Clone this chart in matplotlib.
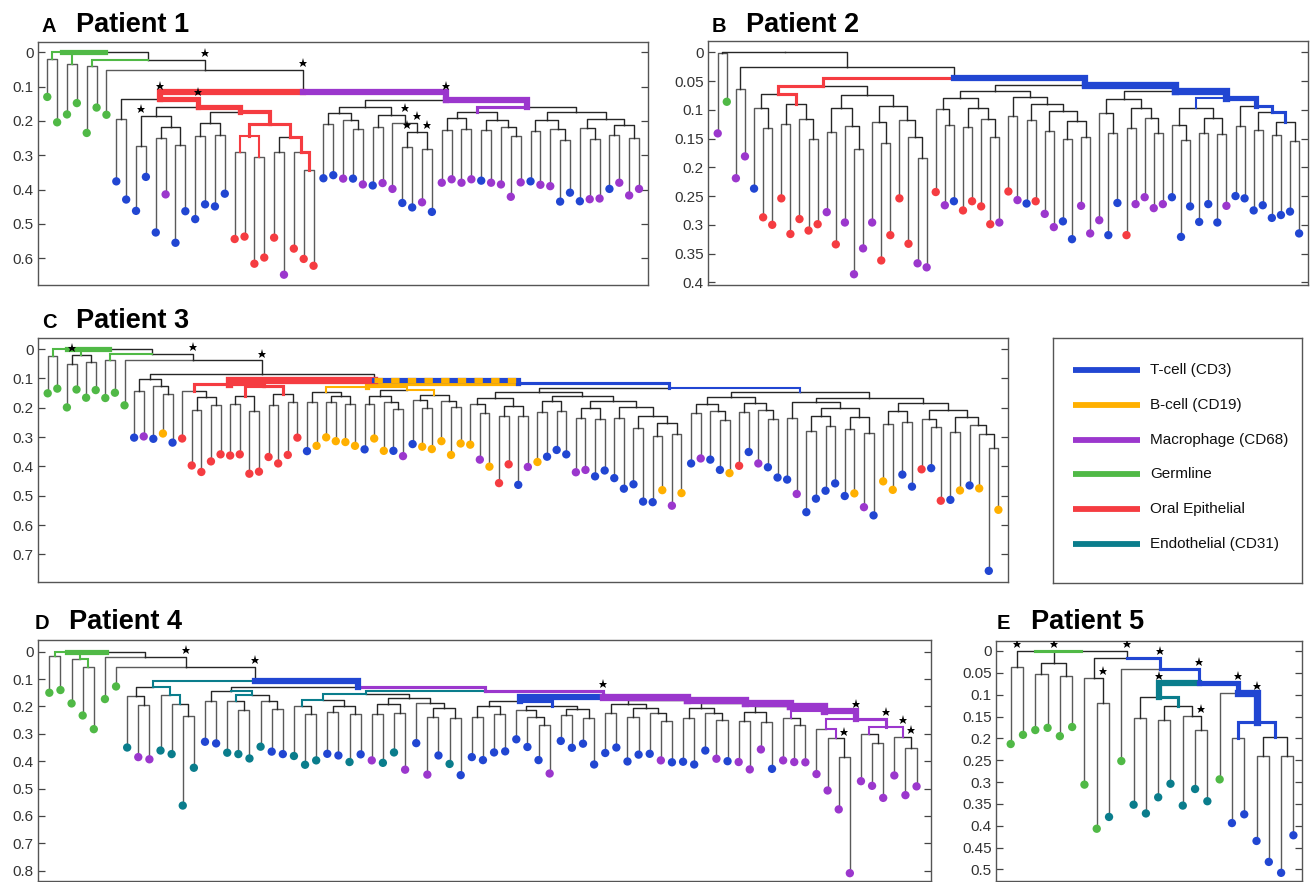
import matplotlib
matplotlib.use('Agg')
import matplotlib.pyplot as plt
from matplotlib.transforms import offset_copy
from matplotlib.ticker import FuncFormatter

plt.rcParams['font.family'] = ['Liberation Sans', 'DejaVu Sans']

# colours per cell type / lineage letter
COLS = {'b': '#2146d2', 'o': '#ffb000', 'p': '#9b37cd',
        'g': '#50b946', 'r': '#f53c41', 't': '#0a7d8c'}
legend_keys = ['b', 'o', 'p', 'g', 'r', 't']
legend_labels = ['T-cell (CD3)', 'B-cell (CD19)', 'Macrophage (CD68)',
                 'Germline', 'Oral Epithelial', 'Endothelial (CD31)']

# tree nodes: [height, left, right, tag]; leaves are indices into the leaf lists
# tag = lineage letter + branch weight, '*' marks a starred branch

# ---------------- Patient 1 ----------------
p1_cells = 'ggggggg' + 'bbbbb' + 'p' + 'bbbbbb' + 'rrrrr' + 'p' + 'rrr' + \
    'bbpbpbppbbpb' + 'pppp' + 'bppppbppbbbppbppp'
p1_hts = [.13, .204, .181, .148, .235, .161, .182,
          .376, .429, .462, .363, .525, .414, .555, .463, .486, .443, .449, .412,
          .544, .537, .616, .598, .540, .648, .572, .602, .622,
          .367, .358, .368, .368, .385, .388, .381, .398, .439, .452, .437, .465,
          .380, .370, .380, .370, .374, .380, .385, .421, .379, .376, .386, .390,
          .435, .409, .434, .428, .426, .398, .380, .417, .398]
p1_red = [0.137, [0.195, 7, 8],
          [0.159, [0.186, [0.273, 9, 10, '*'], [0.217, [0.25, 11, 12], [0.269, 13, 14]]],
           [0.175, [0.205, [0.244, 15, 16], [0.24, 17, 18]],
            [0.21, [0.244, [0.29, 19, 20, 'r2'], [0.305, 21, 22, 'r2'], 'r3'],
             [0.246, [0.29, 23, 24], [0.29, 25, [0.342, 26, 27, 'r3'], 'r3'], 'r3'], 'r4'],
            'r5'], 'r5*'], 'r6*']
p1_k = [0.16, [0.176, [0.21, 28, 29], [0.197, 30, [0.224, 31, 32]]],
        [0.183, [0.217, 33, 34],
         [0.207, 35, [0.233, [0.277, 36, 37, '*'], [0.281, 38, 39, '*'], '*'], '*']]]
p1_j = [0.175, [0.192, [0.226, 40, 41], [0.224, 42, 43]],
        [0.196, [0.227, 44, 45], [0.217, 46, [0.244, 47, 48]]], 'p3']
p1_i = [0.173, [0.198, [0.229, 49, 50], [0.223, 51, [0.256, 52, 53]]],
        [0.193, [0.22, 54, [0.254, 55, 56]], [0.211, [0.242, 57, 58], [0.25, 59, 60]]]]
p1_mac = [0.14, p1_k, [0.158, p1_j, p1_i, 'p6'], 'p6*']
p1_q = [0.117, p1_red, p1_mac, '*']
p1_tree = [0.0, [0.0, [0.02, 0, 1, 'g2'], [0.033, 2, 3, 'g2'], 'g5'],
           [0.022, [0.04, 4, 5, 'g2'], [0.052, 6, p1_q, '*']]]

# ---------------- Patient 2 ----------------
p2_cells = 'pgppb' + 'rrrrrrr' + 'prpppp' + 'rrrr' + 'pp' + 'rpb' + 'rrrr' + \
    'prpbr' + 'ppbbppp' + 'bbr' + 'pppp' + 'bbbbbb' + 'p' + 'bbbbbbbb'
p2_hts = [.141, .086, .219, .181, .237,
          .287, .300, .254, .316, .290, .310, .299,
          .278, .334, .296, .386, .341, .296,
          .362, .318, .254, .333, .367, .374,
          .243, .266, .259, .275, .259, .268, .299, .296,
          .242, .257, .263, .259, .281, .304, .294, .325, .267, .315, .292,
          .318, .262, .318, .264, .252, .271, .264,
          .252, .321, .268, .295, .264, .296, .267,
          .250, .254, .275, .266, .288, .283, .277, .315]
p2_rr = [0.0585,
         [0.073, [0.097, 4, [0.132, 5, 6]],
          [0.09, [0.125, 7, 8], [0.116, 9, [0.15, 10, 11]], 'r3'], 'r3'],
         [0.075, [0.096, [0.138, 12, 13], [0.128, 14, [0.168, 15, 16]]],
          [0.093, [0.121, 17, [0.158, 18, 19]], [0.117, 20, [0.148, 21, [0.184, 22, 23]]]]],
         'r3']
p2_d1 = [0.067,
         [0.08, [0.099, 24, [0.126, 25, 26]], [0.097, [0.13, 27, 28], [0.116, 29, [0.148, 30, 31]]]],
         [0.077, [0.111, 32, 33],
          [0.09, [0.118, 34, 35], [0.102, [0.136, 36, 37], [0.119, [0.15, 38, 39], [0.148, 40, 41]]]]]]
p2_c2l = [0.081, [0.105, 42, [0.14, 43, 44]], [0.097, [0.131, 45, 46], [0.115, 47, [0.14, 48, 49]]]]
p2_c3l = [0.096, [0.126, 50, [0.152, 51, 52]], [0.115, [0.14, 53, 54], [0.142, 55, 56]], 'b2']
p2_c5 = [0.104, [0.135, 59, 60], [0.121, [0.144, 61, 62], [0.154, 63, 64], 'b3'], 'b3']
p2_c3 = [0.08, p2_c3l, [0.093, [0.129, 57, 58], p2_c5, 'b5'], 'b7']
p2_c1 = [0.056, p2_d1, [0.067, p2_c2l, p2_c3, 'b7'], 'b6']
p2_tree = [0.0, [0.002, 0, 1], [0.025, [0.063, 2, 3], [0.044, p2_rr, p2_c1]]]

# ---------------- Patient 3 ----------------
p3_cells = 'ggggggggg' + 'bpbob' + 'rrrrrrrrrrrrr' + 'booooo' + 'boobpboooooo' + \
    'porrbpobbb' + 'ppbbbbbbbopo' + 'bpbbo' + 'rbpbbb' + 'pbbbbb' + 'opb' + \
    'oobb' + 'rbrb' + 'obobo'
p3_hts = [.151, .135, .199, .138, .166, .140, .167, .149, .192,
          .302, .298, .306, .288, .319,
          .305, .397, .419, .383, .359, .363, .359, .425, .418, .368, .390, .361, .302,
          .348, .330, .301, .314, .317, .330,
          .342, .305, .347, .347, .365, .324, .333, .341, .314, .361, .322, .326,
          .377, .401, .457, .393, .463, .402, .385, .367, .344, .359,
          .420, .412, .434, .414, .440, .476, .461, .520, .522, .481, .534, .491,
          .390, .373, .377, .412, .423, .398, .351, .390, .403, .438, .445, .494,
          .556, .510, .483, .458, .501, .492, .539, .567, .451, .480, .428, .469,
          .410, .406, .517, .514, .482, .465, .475, .756, .548]
p3_left = [0.103, [0.142, 9, 10], [0.126, 11, [0.155, 12, 13]]]
p3_red = [0.118, [0.142, 14, [0.165, [0.208, 15, 16], [0.191, 17, 18]], 'r3'],
          [0.125, [0.16, [0.189, 19, 20], [0.211, 21, 22], 'r3'],
           [0.155, [0.192, 23, 24], [0.182, 25, 26], 'r3'], 'r4'], 'r7']
p3_orange = [0.131, [0.145, [0.182, 27, 28], [0.159, [0.18, 29, 30], [0.188, 31, 32]], 'o2'],
             [0.14, [0.159, [0.188, 33, 34], [0.18, 35, [0.206, 36, 37]]],
              [0.157, [0.174, 38, [0.2, 39, 40]], [0.176, 41, [0.199, 42, 43]], 'o2'], 'o2'], 'o5']
p3_g1 = [0.145, [0.166, [0.188, 44, [0.219, 45, 46]], [0.193, [0.227, 47, 48], [0.23, 49, 50]]],
         [0.159, [0.177, [0.215, 51, 52], [0.21, 53, 54]],
          [0.177, [0.2, [0.236, 55, 56], [0.239, 57, 58]],
           [0.197, [0.235, 59, 60], [0.228, [0.27, 61, 62], [0.253, [0.297, 63, 64], [0.288, 65, 66]]]]]]]
p3_g2 = [0.148, [0.163, [0.1875, [0.219, 67, 68], [0.2125, 69, [0.243, 70, 71]]],
                 [0.185, [0.214, 72, 73], [0.208, 74, [0.24, 75, 76]]]],
         [0.166, [0.182, [0.236, 77, 78],
                  [0.202, [0.228, [0.28, 79, 80], [0.2625, 81, 82]], [0.233, [0.274, 83, 84], [0.2875, 85, 86]]]],
          [0.185, [0.211, [0.256, 87, 88], [0.249, 89, 90]],
           [0.208, [0.2375, 91, [0.266, 92, 93]],
            [0.233, [0.283, 94, 95], [0.258, 96, [0.291, 97, [0.336, 98, 99]]]]]]], 'b2']
p3_h = [0.106, p3_red, [0.117, p3_orange, [0.134, p3_g1, p3_g2, 'b3'], 'x5']]
p3_q = [0.085, p3_left, p3_h, '*']
p3_tree = [0.0, [0.0, [0.025, 0, 1, 'g2'], [0.02, [0.051, 2, 3, '*'], [0.043, 4, 5], 'g2'], 'g5'],
           [0.017, [0.039, 6, 7, 'g2'], [0.039, 8, p3_q, '*']]]

# ---------------- Patient 4 ----------------
p4_cells = 'ggggggg' + 'tpptttt' + 'bb' + 'tttt' + 'bb' + 'ttt' + 'bb' + 'tbpttpbpbt' + \
    'bbbbbbbbp' + 'bbbbbbbbb' + 'pbbbbpbppp' + 'bp' + 'pppppppppppp'
p4_hts = [.150, .140, .189, .233, .283, .173, .127,
          .350, .385, .393, .361, .374, .562, .424, .329, .335, .369, .374, .390, .347,
          .365, .374, .381, .413, .397, .373, .379,
          .403, .375, .397, .406, .368, .431, .334, .449, .379, .410, .451, .385, .396,
          .368, .364, .320, .348, .396, .445, .326, .351, .336, .412, .370, .350, .401, .376,
          .373, .397, .404, .402, .412, .361, .391, .400, .403, .430, .357, .428, .397,
          .403, .404, .447, .507, .576, .809, .473, .490, .534, .452, .524, .492]
p4_ql = [0.13, [0.162, 7, [0.196, 8, 9]], [0.158, 10, [0.19, 11, [0.235, 12, 13], 't2'], 't2'], 't2']
p4_n695 = [0.142, [0.18, 14, 15],
           [0.158, [0.18, 16, [0.213, 17, 18], 't2'], [0.18, 19, [0.21, 20, 21]], 't2']]
p4_t1 = [0.175, [0.199, 22, [0.229, 23, 24], 't2'], [0.199, [0.219, 25, 26], [0.229, 27, 28]], 't2']
p4_t2 = [0.17, [0.192, [0.229, 29, 30], [0.225, 31, 32]],
         [0.186, 33, [0.207, [0.24, 34, 35], [0.241, 36, 37]]]]
p4_n600 = [0.18, [0.2, [0.24, 38, 39], [0.228, 40, 41]],
           [0.199, [0.214, 42, [0.2375, 43, [0.268, 44, 45]]], [0.21, [0.231, 46, 47], [0.244, 48, 49]], 'b3'],
           'b6']
p4_mc6 = [0.274, [0.301, 73, [0.335, 74, 75], 'p2'], [0.313, 76, [0.35, 77, 78, '*'], 'p2*'], 'p3*']
p4_mc5 = [0.247, [0.283, 69, [0.317, 70, [0.386, 71, 72, '*'], 'p2'], 'p2'], p4_mc6, 'p6*']
p4_mc4 = [0.216, [0.244, 66, [0.266, 67, 68], 'p2'], p4_mc5, 'p7']
p4_mc3 = [0.2, [0.222, [0.253, 62, 63], [0.256, 64, 65]], p4_mc4, 'p7']
p4_mc2 = [0.186, [0.207, [0.244, 57, 58], [0.225, 59, [0.25, 60, 61]]], p4_mc3, 'p7']
p4_mc1 = [0.177, [0.191, [0.223, 50, 51], [0.207, [0.24, 52, 53], [0.225, 54, [0.252, 55, 56]]]],
          p4_mc2, 'p7']
p4_m1 = [0.143, [0.155, p4_t1, p4_t2, 't2'], [0.164, p4_n600, p4_mc1, 'p3*'], 'p3']
p4_q = [0.107, p4_ql, [0.128, p4_n695, p4_m1, 'b6'], '*']
p4_tree = [0.0, [0.0, [0.015, 0, 1, 'g2'], [0.028, 2, [0.055, 3, 4, 'g2'], 'g2'], 'g5'],
           [0.021, 5, [0.055, 6, p4_q, '*']]]

# ---------------- Patient 5 ----------------
p5_cells = 'gggggggg' + 't' + 'g' + 'ttttttt' + 'g' + 'bbbbbb'
p5_hts = [.213, .192, .181, .176, .195, .174, .306, .407, .380, .252, .352, .372,
          .335, .304, .354, .316, .344, .294, .394, .374, .435, .483, .508, .422]
p5_teal = [0.105, [0.153, 10, 11],
           [0.126, [0.158, 12, 13], [0.149, 14, [0.182, 15, 16, '*']], 't3'], 't6*']
p5_blue = [0.097, 17, [0.162, [0.2, 18, 19, 'b3'], [0.196, [0.24, 20, 21], [0.24, 22, 23], 'b3'], 'b7*'],
           'b5*']
p5_tree = [0.0, [0.0, [0.036, 0, 1, '*'], [0.028, [0.053, 2, 3], [0.058, 4, 5], '*'], 'g3'],
           [0.017, [0.061, 6, [0.118, 7, 8, '*']],
            [0.041, 9, [0.074, p5_teal, p5_blue, 'b3*'], 'b3*'], '*']]

W, H = 1311, 882
fig = plt.figure(figsize=(W / 100, H / 100), dpi=100)


def px_axes(l, t, r, b):
    return fig.add_axes([l / W, 1 - b / H, (r - l) / W, (b - t) / H])


def draw_tree(ax, node, hts, star_tr):
    if isinstance(node, int):
        return node, hts[node]
    h = node[0]
    kids = [draw_tree(ax, k, hts, star_tr) for k in node[1:3]]
    x = (kids[0][0] + kids[1][0]) / 2
    for k, (kx, kh) in zip(node[1:3], kids):
        tag = '' if isinstance(k, int) else (k[3] if len(k) > 3 else '')
        lin = tag.rstrip('*')
        xs, ys = [x, kx, kx], [h, h, kh]
        if lin == '':
            c = '#5a5a5a' if isinstance(k, int) else '#262626'
            ax.plot(xs, ys, color=c, lw=1.0, zorder=1)
        elif lin[0] == 'x':
            w = int(lin[1:]) * 0.75
            ax.plot(xs, ys, color=COLS['b'], lw=w, zorder=2,
                    solid_capstyle='projecting', solid_joinstyle='miter')
            ax.plot(xs, ys, color=COLS['o'], lw=w, zorder=2, dashes=(1.6, 1.6),
                    dash_capstyle='butt')
        else:
            ax.plot(xs, ys, color=COLS[lin[0]], lw=int(lin[1:]) * 0.75, zorder=2,
                    solid_capstyle='projecting', solid_joinstyle='miter')
        if tag.endswith('*'):
            ax.plot(kx, h, marker='*', color='k', ms=6.5, mew=0,
                    transform=star_tr, zorder=5)
    return x, h


def fmt(v, pos):
    return f'{v:g}'


panels = [
    # tree, heights, cells, box(px), xlim, ylim, yticks, letter, title, title pos
    (p1_tree, p1_hts, p1_cells, (38, 42, 648, 285), (-0.94, 60.91), (0.678, -0.030),
     [0, .1, .2, .3, .4, .5, .6], 'A', 'Patient 1', (42, 32)),
    (p2_tree, p2_hts, p2_cells, (708, 41, 1308, 285), (-1.07, 64.98), (0.4047, -0.0197),
     [0, .05, .1, .15, .2, .25, .3, .35, .4], 'B', 'Patient 2', (712, 32)),
    (p3_tree, p3_hts, p3_cells, (38, 338, 1008, 582), (-1.01, 100.0), (0.794, -0.0375),
     [0, .1, .2, .3, .4, .5, .6, .7], 'C', 'Patient 3', (42, 328)),
    (p4_tree, p4_hts, p4_cells, (38, 640, 931, 881), (-1.02, 79.3), (0.8376, -0.0427),
     [0, .1, .2, .3, .4, .5, .6, .7, .8], 'D', 'Patient 4', (35, 629)),
    (p5_tree, p5_hts, p5_cells, (996, 641, 1302, 881), (-1.196, 23.7), (0.5267, -0.0229),
     [0, .05, .1, .15, .2, .25, .3, .35, .4, .45, .5], 'E', 'Patient 5', (997, 629)),
]

for tree, hts, cells, box, xl, yl, yt, letter, title, tpos in panels:
    ax = px_axes(*box)
    star_tr = offset_copy(ax.transData, fig=fig, y=5, units='points')
    draw_tree(ax, tree, hts, star_tr)
    ax.scatter(range(len(hts)), hts, c=[COLS[c] for c in cells], s=36,
               linewidths=0, zorder=4)
    ax.set_xlim(*xl)
    ax.set_ylim(*yl)
    ax.set_xticks([])
    ax.set_yticks(yt)
    ax.yaxis.set_major_formatter(FuncFormatter(fmt))
    ax.tick_params(axis='y', direction='in', left=True, right=True, length=5,
                   width=0.9, color='#444444', labelsize=11, labelcolor='#333333', pad=3)
    for s in ax.spines.values():
        s.set_color('#555555')
        s.set_linewidth(1.0)
    fig.text(tpos[0] / W, 1 - tpos[1] / H, letter, fontsize=14.5, fontweight='bold', va='baseline')
    fig.text((tpos[0] + 34) / W, 1 - tpos[1] / H, title, fontsize=19.5, fontweight='bold',
             va='baseline')

# legend box
lax = px_axes(1053, 338, 1302, 583)
lax.set_xlim(0, 1)
lax.set_ylim(1, 0)
lax.set_xticks([])
lax.set_yticks([])
for s in lax.spines.values():
    s.set_color('#555555')
    s.set_linewidth(1.0)
for i, (k, lab) in enumerate(zip(legend_keys, legend_labels)):
    yy = (32 + i * 34.8) / 245
    lax.plot([0.08, 0.35], [yy, yy], color=COLS[k], lw=4.2, solid_capstyle='butt')
    lax.text(0.39, yy, lab, fontsize=11, va='center', ha='left', color='#111111')

fig.savefig('out.png', dpi=100)
